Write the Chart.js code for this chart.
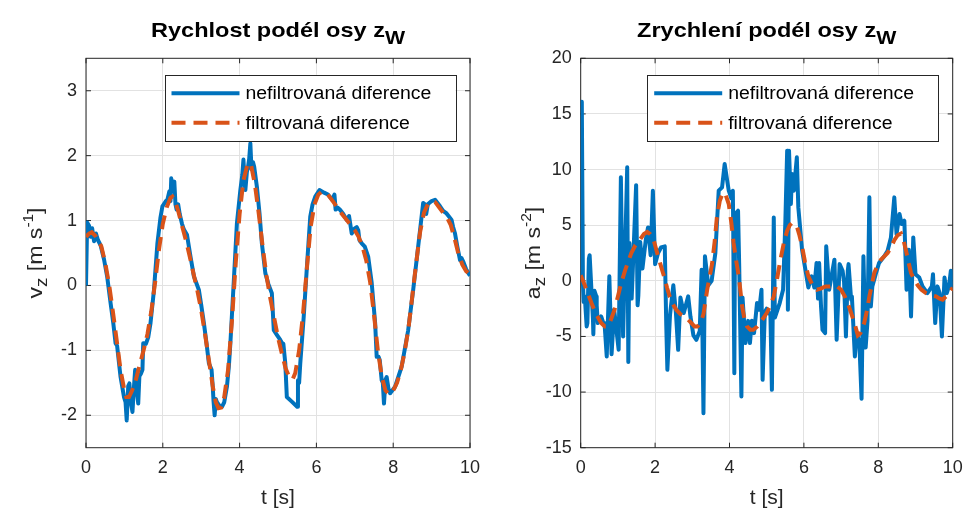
<!DOCTYPE html>
<html>
<head>
<meta charset="utf-8">
<script src="https://cdn.jsdelivr.net/npm/chart.js@4.4.1/dist/chart.umd.min.js"></script>
<style>
  html, body { margin: 0; padding: 0; background: #fff; }
  #wrap { position: relative; width: 963px; height: 518px; }
  .panel { position: absolute; top: 0; height: 518px; }
  #p1 { left: 0; width: 481px; }
  #p2 { left: 481px; width: 482px; }
</style>
</head>
<body>
<div id="wrap">
  <div class="panel" id="p1"><canvas id="velChart"></canvas></div>
  <div class="panel" id="p2"><canvas id="accChart"></canvas></div>
</div>
<script>
// ---- axis ticks ----
const timeTicks = [0, 2, 4, 6, 8, 10];
const velTicks = [-2, -1, 0, 1, 2, 3];
const accTicks = [-15, -10, -5, 0, 5, 10, 15, 20];

const seriesLabels = ['nefiltrovaná diference', 'filtrovaná diference'];

// ---- velocity along z_W [m/s] ----
const tVelRaw = [0, 0.03, 0.08, 0.12, 0.16, 0.21, 0.26, 0.31, 0.38, 0.47, 0.55, 0.64, 0.71, 0.77, 0.81, 0.86, 0.90, 0.99, 1.03, 1.06, 1.10, 1.13, 1.17, 1.21, 1.25, 1.28, 1.32, 1.36, 1.39, 1.43, 1.47, 1.49, 1.56, 1.62, 1.68, 1.77, 1.86, 1.94, 1.99, 2.08, 2.12, 2.17, 2.20, 2.22, 2.26, 2.30, 2.33, 2.36, 2.40, 2.44, 2.50, 2.55, 2.63, 2.72, 2.81, 2.94, 3.00, 3.07, 3.14, 3.20, 3.27, 3.30, 3.32, 3.35, 3.38, 3.41, 3.47, 3.54, 3.60, 3.67, 3.72, 3.76, 3.85, 3.93, 4.02, 4.07, 4.10, 4.13, 4.15, 4.19, 4.22, 4.25, 4.28, 4.31, 4.35, 4.38, 4.45, 4.52, 4.58, 4.67, 4.75, 4.84, 4.89, 4.97, 5.06, 5.11, 5.14, 5.19, 5.23, 5.36, 5.50, 5.52, 5.55, 5.58, 5.67, 5.76, 5.84, 5.90, 5.97, 6.08, 6.20, 6.30, 6.41, 6.47, 6.50, 6.55, 6.61, 6.70, 6.79, 6.85, 6.92, 7.00, 7.05, 7.09, 7.12, 7.18, 7.26, 7.35, 7.44, 7.53, 7.57, 7.62, 7.65, 7.70, 7.73, 7.76, 7.80, 7.83, 7.88, 7.92, 8.05, 8.22, 8.39, 8.52, 8.66, 8.78, 8.83, 8.86, 8.90, 9.00, 9.09, 9.22, 9.30, 9.39, 9.52, 9.56, 9.61, 9.67, 9.74, 9.78, 9.83, 9.90, 9.96, 10.0];
const vRaw = [0.00, 0.97, 0.92, 0.75, 0.88, 0.68, 0.80, 0.70, 0.62, 0.40, 0.14, -0.27, -0.58, -0.89, -0.93, -1.20, -1.41, -1.72, -1.80, -2.08, -1.55, -1.51, -1.80, -1.95, -1.55, -1.30, -1.60, -1.82, -1.40, -1.36, -1.30, -0.89, -0.90, -0.80, -0.58, -0.07, 0.65, 1.05, 1.22, 1.30, 1.32, 1.45, 1.30, 1.65, 1.45, 1.60, 1.25, 1.17, 1.25, 1.10, 0.95, 0.86, 0.78, 0.45, 0.14, -0.07, -0.30, -0.58, -0.90, -1.20, -1.30, -1.55, -1.77, -2.00, -1.75, -1.80, -1.85, -1.87, -1.80, -1.56, -1.25, -0.89, 0.08, 0.96, 1.47, 1.70, 1.94, 1.60, 1.47, 1.75, 1.83, 1.95, 2.19, 1.79, 1.90, 1.83, 1.52, 1.10, 0.65, 0.19, 0.02, -0.12, -0.69, -0.76, -0.84, -0.89, -0.90, -1.20, -1.72, -1.79, -1.87, -1.46, -1.50, -1.20, -0.48, 0.35, 1.06, 1.25, 1.37, 1.47, 1.43, 1.40, 1.32, 1.40, 1.17, 1.20, 1.17, 1.10, 1.01, 1.07, 0.80, 0.88, 0.90, 0.85, 0.70, 0.65, 0.60, 0.44, 0.04, -0.58, -1.10, -1.10, -1.15, -1.46, -1.50, -1.82, -1.45, -1.41, -1.60, -1.66, -1.56, -1.25, -0.69, -0.07, 0.65, 1.27, 1.25, 1.10, 1.25, 1.30, 1.32, 1.22, 1.15, 1.11, 1.01, 0.90, 0.80, 0.60, 0.39, 0.42, 0.36, 0.25, 0.19, 0.15];

const tVelFilt = [0, 0.08, 0.15, 0.25, 0.40, 0.50, 0.60, 0.70, 0.80, 0.90, 1.00, 1.05, 1.12, 1.20, 1.30, 1.40, 1.50, 1.60, 1.70, 1.80, 1.90, 2.00, 2.10, 2.20, 2.25, 2.32, 2.40, 2.50, 2.60, 2.70, 2.80, 2.90, 3.00, 3.10, 3.20, 3.30, 3.38, 3.45, 3.52, 3.60, 3.70, 3.80, 3.90, 4.00, 4.10, 4.20, 4.25, 4.30, 4.40, 4.50, 4.60, 4.70, 4.80, 4.90, 5.00, 5.10, 5.20, 5.30, 5.38, 5.45, 5.55, 5.65, 5.75, 5.85, 5.95, 6.05, 6.15, 6.30, 6.45, 6.60, 6.80, 7.00, 7.10, 7.20, 7.30, 7.40, 7.50, 7.60, 7.70, 7.80, 7.90, 8.00, 8.10, 8.20, 8.30, 8.40, 8.50, 8.60, 8.70, 8.80, 8.90, 9.00, 9.10, 9.20, 9.30, 9.40, 9.50, 9.60, 9.70, 9.80, 9.90, 10.0];
const vFilt = [0.75, 0.80, 0.82, 0.76, 0.60, 0.35, 0.02, -0.40, -0.85, -1.30, -1.62, -1.72, -1.72, -1.62, -1.45, -1.22, -1.00, -0.75, -0.40, 0.05, 0.55, 0.95, 1.20, 1.35, 1.37, 1.30, 1.15, 0.92, 0.70, 0.45, 0.18, -0.08, -0.38, -0.75, -1.15, -1.55, -1.80, -1.89, -1.88, -1.72, -1.30, -0.55, 0.35, 1.10, 1.62, 1.85, 1.89, 1.85, 1.55, 1.10, 0.60, 0.15, -0.20, -0.50, -0.80, -1.05, -1.28, -1.42, -1.45, -1.35, -1.00, -0.45, 0.25, 0.90, 1.25, 1.40, 1.45, 1.40, 1.28, 1.15, 1.00, 0.85, 0.75, 0.60, 0.38, 0.05, -0.45, -1.00, -1.40, -1.62, -1.68, -1.62, -1.50, -1.30, -1.02, -0.65, -0.15, 0.35, 0.82, 1.12, 1.25, 1.30, 1.28, 1.20, 1.12, 1.05, 0.93, 0.72, 0.48, 0.32, 0.22, 0.17];

// ---- acceleration along z_W [m/s^2] ----
const tAccRaw = [0, 0.03, 0.06, 0.08, 0.11, 0.16, 0.18, 0.22, 0.24, 0.29, 0.33, 0.34, 0.37, 0.42, 0.43, 0.46, 0.55, 0.61, 0.64, 0.70, 0.77, 0.83, 0.90, 0.96, 1.02, 1.08, 1.14, 1.19, 1.25, 1.28, 1.31, 1.37, 1.49, 1.53, 1.55, 1.60, 1.66, 1.75, 1.81, 1.88, 1.94, 2.00, 2.08, 2.16, 2.26, 2.30, 2.33, 2.40, 2.49, 2.56, 2.62, 2.68, 2.77, 2.89, 2.95, 3.03, 3.11, 3.20, 3.25, 3.30, 3.34, 3.43, 3.52, 3.62, 3.71, 3.80, 3.87, 3.98, 4.05, 4.09, 4.10, 4.13, 4.15, 4.23, 4.26, 4.32, 4.35, 4.43, 4.50, 4.55, 4.60, 4.66, 4.74, 4.80, 4.86, 4.89, 4.95, 5.00, 5.10, 5.14, 5.19, 5.22, 5.35, 5.44, 5.50, 5.55, 5.57, 5.60, 5.65, 5.68, 5.73, 5.81, 5.85, 5.95, 6.04, 6.12, 6.21, 6.28, 6.34, 6.38, 6.41, 6.46, 6.50, 6.57, 6.60, 6.68, 6.82, 6.88, 6.96, 7.04, 7.08, 7.13, 7.18, 7.20, 7.27, 7.29, 7.37, 7.42, 7.49, 7.55, 7.60, 7.66, 7.71, 7.76, 7.80, 7.84, 7.93, 8.02, 8.16, 8.25, 8.34, 8.43, 8.49, 8.57, 8.63, 8.70, 8.76, 8.82, 8.88, 8.94, 9.00, 9.10, 9.19, 9.32, 9.44, 9.47, 9.53, 9.59, 9.65, 9.71, 9.78, 9.84, 9.90, 9.95, 10.0];
const aRaw = [0.4, 16.1, -0.2, -1.9, -1.4, -4.1, -3.8, 2.0, 2.3, -0.9, -3.5, -4.8, -0.9, -1.4, -2.2, -3.8, -3.2, -3.8, -3.8, -6.8, 0.4, -6.6, -2.6, -4.4, -6.2, 9.3, -5.0, 2.1, 10.2, -7.3, 3.4, -1.6, 8.6, -2.2, -1.3, 3.5, 1.1, 3.7, 4.8, 2.3, 8.1, 1.5, 2.5, 3.0, 3.1, -4.0, -8.0, -3.1, -0.4, -2.9, -6.2, -1.5, -2.9, -1.4, -3.2, -4.9, -5.3, -4.5, 1.0, -11.9, 2.2, -0.4, 0.0, 2.5, 8.1, 8.4, 10.5, 8.1, 7.4, 8.1, 4.6, -8.3, 6.0, 6.3, 1.5, -10.4, -1.5, -5.6, -3.6, -5.6, -3.6, -4.7, -2.0, -2.6, -0.8, -8.9, -2.8, -2.5, -3.1, -9.8, 5.7, -3.3, -2.0, -0.8, 5.2, 11.7, -2.6, 11.7, 6.9, 9.6, 8.1, 11.1, 6.6, 2.8, 1.0, -0.6, 0.4, -0.6, 1.6, -1.6, 1.6, -2.3, -4.4, -4.7, 3.1, -0.8, 1.9, -5.3, 1.5, 0.9, -0.1, -5.0, 0.9, 1.5, -1.7, -1.4, -6.8, -4.7, -5.5, -10.6, 2.2, -6.0, -3.6, 7.5, -2.3, -0.5, 0.6, 1.6, 2.2, 2.7, 3.9, 7.5, 4.2, 6.0, 5.1, 5.4, -0.8, 2.8, -3.2, 3.9, 0.6, 0.3, -0.5, -1.1, -0.5, 0.6, -3.8, -0.5, -1.1, -5.0, 0.3, -1.1, -0.5, 0.9, -0.7];

const tAccFilt = [0, 0.10, 0.20, 0.29, 0.40, 0.55, 0.65, 0.72, 0.80, 0.91, 1.00, 1.09, 1.20, 1.36, 1.47, 1.58, 1.70, 1.79, 1.87, 1.94, 2.00, 2.08, 2.16, 2.24, 2.32, 2.39, 2.48, 2.57, 2.68, 2.80, 2.92, 3.06, 3.14, 3.22, 3.30, 3.40, 3.53, 3.60, 3.66, 3.74, 3.82, 3.88, 3.98, 4.05, 4.11, 4.18, 4.25, 4.34, 4.40, 4.47, 4.56, 4.64, 4.75, 4.82, 4.92, 5.00, 5.10, 5.19, 5.28, 5.37, 5.46, 5.55, 5.62, 5.68, 5.75, 5.81, 5.88, 5.95, 6.03, 6.12, 6.22, 6.35, 6.45, 6.58, 6.70, 6.86, 7.00, 7.10, 7.18, 7.28, 7.36, 7.45, 7.52, 7.62, 7.70, 7.76, 7.83, 7.89, 7.98, 8.07, 8.16, 8.25, 8.34, 8.43, 8.52, 8.61, 8.68, 8.74, 8.81, 8.88, 8.97, 9.06, 9.16, 9.28, 9.42, 9.55, 9.65, 9.73, 9.82, 9.90, 10.0];
const aFilt = [0.5, -0.3, -1.2, -2.0, -2.9, -3.8, -4.1, -4.1, -3.6, -2.6, -1.4, -0.2, 1.0, 2.5, 3.2, 3.65, 4.2, 4.4, 4.2, 3.9, 3.2, 2.2, 1.3, 0.4, -0.6, -1.4, -2.1, -2.6, -3.0, -3.2, -3.6, -4.1, -4.1, -3.8, -3.0, -0.8, 1.5, 3.5, 5.7, 7.2, 7.9, 7.9, 6.9, 5.2, 3.4, 1.8, 0.4, -2.3, -3.4, -4.1, -4.4, -4.4, -4.1, -3.8, -3.3, -2.9, -2.2, -1.4, 0.2, 1.9, 3.4, 4.5, 5.0, 5.2, 5.1, 4.9, 4.1, 3.1, 1.7, 0.4, -0.3, -0.8, -0.7, -0.5, -0.5, -0.4, -0.8, -1.4, -2.0, -3.0, -3.8, -4.9, -4.7, -3.8, -2.6, -1.4, -0.3, 0.7, 1.4, 1.9, 2.2, 2.5, 3.0, 3.65, 4.1, 4.25, 3.6, 2.8, 1.7, 0.7, 0.1, -0.4, -0.8, -1.1, -1.3, -1.4, -1.6, -1.7, -1.4, -1.1, -0.6];

// ---- styling ----
const INK = '#262626';
const GRID = '#e2e2e2';
const BLUE = '#0072BD';
const ORANGE = '#D95319';
const FONT = '"Liberation Sans", Arial, Helvetica, sans-serif';

const zip = (ts, ys) => ts.map((t, i) => ({ x: t, y: ys[i] }));

// draws a run of text pieces (sub/superscripts), centred on x, widened by sx
function richText(ctx, parts, x, y, sx) {
  let w = 0;
  parts.forEach(p => { ctx.font = p.font; p.w = ctx.measureText(p.text).width; w += p.w; });
  ctx.save();
  ctx.translate(x, y);
  ctx.scale(sx || 1, 1);
  let cx = -w / 2;
  parts.forEach(p => { ctx.font = p.font; ctx.fillText(p.text, cx, p.dy || 0); cx += p.w; });
  ctx.restore();
}

const framePlugin = {
  id: 'frame',
  beforeDatasetsDraw(chart) {
    const { ctx, chartArea: a, scales } = chart;
    ctx.save();
    ctx.strokeStyle = INK;
    ctx.lineWidth = 1;
    ctx.strokeRect(a.left, a.top, a.right - a.left, a.bottom - a.top);
    const L = 5;
    ctx.beginPath();
    scales.x.ticks.forEach(t => {
      const px = scales.x.getPixelForValue(t.value);
      ctx.moveTo(px, a.bottom); ctx.lineTo(px, a.bottom - L);
      ctx.moveTo(px, a.top); ctx.lineTo(px, a.top + L);
    });
    scales.y.ticks.forEach(t => {
      const py = scales.y.getPixelForValue(t.value);
      ctx.moveTo(a.left, py); ctx.lineTo(a.left + L, py);
      ctx.moveTo(a.right, py); ctx.lineTo(a.right - L, py);
    });
    ctx.stroke();
    ctx.restore();
  },
  afterDraw(chart, args, opts) {
    const { ctx, chartArea: a } = chart;
    ctx.save();
    ctx.fillStyle = '#000';
    ctx.textBaseline = 'alphabetic';
    // title
    richText(ctx, opts.title, (a.left + a.right) / 2, 37, 1.12);
    // y axis label, rotated
    ctx.fillStyle = INK;
    ctx.translate(opts.yLabelX, (a.top + a.bottom) / 2);
    ctx.rotate(-Math.PI / 2);
    richText(ctx, opts.yLabel, 0, 0, 1.1);
    ctx.restore();

    // legend box in the upper right of the axes
    ctx.save();
    const w = 291, h = 66;
    const lx = a.right - 14.5 - w, ly = a.top + 16.5;
    ctx.fillStyle = '#fff';
    ctx.fillRect(lx, ly, w, h);
    ctx.strokeStyle = INK;
    ctx.lineWidth = 1;
    ctx.strokeRect(Math.round(lx) + 0.5, Math.round(ly) + 0.5, w, h);
    chart.data.datasets.forEach((ds, i) => {
      const cy = ly + 18.5 + i * 29.5;
      ctx.strokeStyle = ds.borderColor;
      ctx.lineWidth = ds.borderWidth;
      ctx.setLineDash(ds.borderDash || []);
      ctx.beginPath();
      ctx.moveTo(lx + 7, cy); ctx.lineTo(lx + 75, cy);
      ctx.stroke();
      ctx.setLineDash([]);
      ctx.fillStyle = '#000';
      ctx.font = '18px ' + FONT;
      ctx.textBaseline = 'middle';
      ctx.save();
      ctx.translate(lx + 81, cy + 1);
      ctx.scale(1.08, 1);
      ctx.fillText(ds.label, 0, 0);
      ctx.restore();
    });
    ctx.restore();
  }
};

function makeChart(id, cfg) {
  return new Chart(document.getElementById(id), {
    type: 'line',
    data: {
      datasets: [
        { label: seriesLabels[0], data: cfg.raw, borderColor: BLUE, borderWidth: 4,
          pointRadius: 0, tension: 0, order: 1, borderJoinStyle: 'round' },
        { label: seriesLabels[1], data: cfg.filt, borderColor: ORANGE, borderWidth: 4,
          borderDash: [14, 8], pointRadius: 0, tension: 0, order: 0 }
      ]
    },
    options: {
      responsive: true,
      maintainAspectRatio: false,
      animation: false,
      devicePixelRatio: 1,
      layout: { padding: { left: 0, top: 58.3, right: cfg.padRight, bottom: 0 } },
      plugins: {
        legend: { display: false },
        tooltip: { enabled: false },
        frame: { title: cfg.title, yLabel: cfg.yLabel, yLabelX: cfg.yLabelX }
      },
      scales: {
        x: {
          type: 'linear', min: 0, max: 10,
          afterBuildTicks: s => { s.ticks = timeTicks.map(v => ({ value: v })); },
          afterFit: s => { s.height = 70.3; s.paddingLeft = 0; s.paddingRight = 0; },
          grid: { color: GRID, drawTicks: false, lineWidth: 1 },
          border: { display: false },
          ticks: { color: INK, font: { family: FONT, size: 18 }, padding: 10, maxRotation: 0 },
          title: { display: true, text: 't [s]', color: INK, font: { family: FONT, size: 21 },
                   padding: { top: 0, bottom: 7 } }
        },
        y: {
          type: 'linear', min: cfg.yMin, max: cfg.yMax,
          afterBuildTicks: s => { s.ticks = cfg.yTicks.map(v => ({ value: v })); },
          afterFit: s => { s.width = cfg.yWidth; s.paddingTop = 0; s.paddingBottom = 0; },
          grid: { color: GRID, drawTicks: false, lineWidth: 1 },
          border: { display: false },
          ticks: { color: INK, font: { family: FONT, size: 18 }, padding: 9 }
        }
      }
    },
    plugins: [framePlugin]
  });
}

const titleFont = 'bold 21px ' + FONT;
const subFont = 'bold 19px ' + FONT;
const labFont = '21px ' + FONT;
const labSub = '17px ' + FONT;
const labSup = '14px ' + FONT;

makeChart('velChart', {
  raw: zip(tVelRaw, vRaw), filt: zip(tVelFilt, vFilt),
  yMin: -2.5, yMax: 3.5, yTicks: velTicks, yWidth: 86, padRight: 11, yLabelX: 42,
  title: [{ text: 'Rychlost podél osy z', font: titleFont }, { text: 'W', font: subFont, dy: 7 }],
  yLabel: [{ text: 'v', font: labFont }, { text: 'z', font: labSub, dy: 5 },
           { text: ' [m s', font: labFont }, { text: '-1', font: labSup, dy: -9 }, { text: ']', font: labFont }]
});

makeChart('accChart', {
  raw: zip(tAccRaw, aRaw), filt: zip(tAccFilt, aFilt),
  yMin: -15, yMax: 20, yTicks: accTicks, yWidth: 99.7, padRight: 10.3, yLabelX: 59,
  title: [{ text: 'Zrychlení podél osy z', font: titleFont }, { text: 'W', font: subFont, dy: 7 }],
  yLabel: [{ text: 'a', font: labFont }, { text: 'z', font: labSub, dy: 5 },
           { text: ' [m s', font: labFont }, { text: '-2', font: labSup, dy: -9 }, { text: ']', font: labFont }]
});
</script>
</body>
</html>
